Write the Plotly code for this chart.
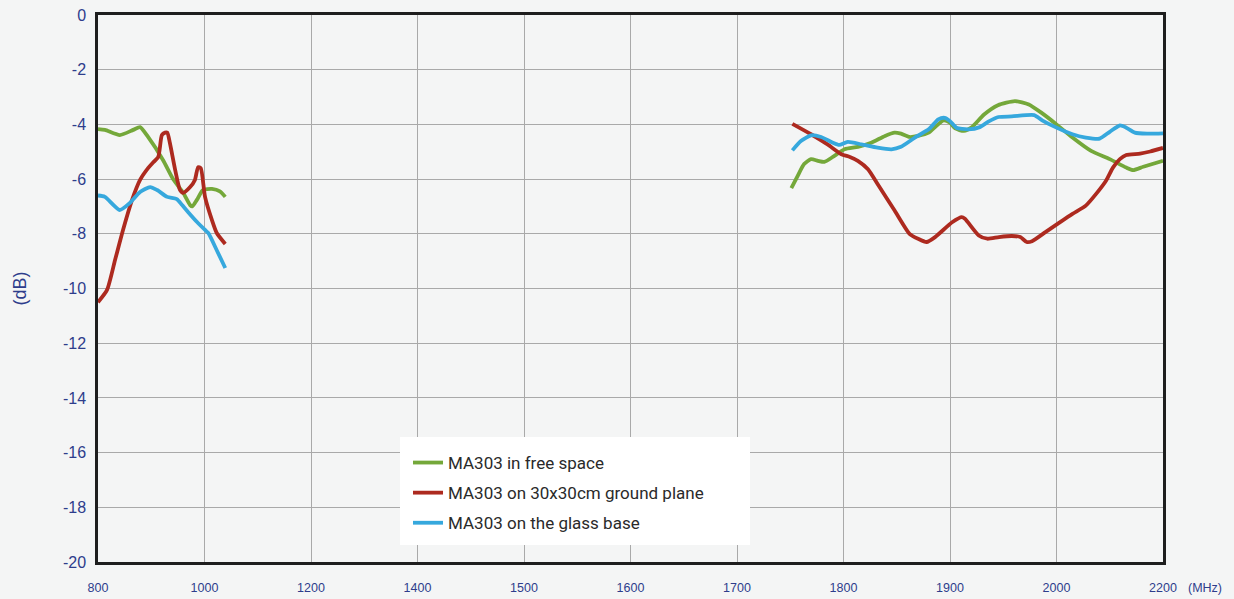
import numpy as np
import plotly.graph_objects as go

# Axis tick values (MHz) — the axis is non-uniform
x_ticks = [800, 1000, 1200, 1400, 1500, 1600, 1700, 1800, 1900, 2000, 2200]
y_ticks = [0, -2, -4, -6, -8, -10, -12, -14, -16, -18, -20]

# MA303 in free space
free_low_f = [800, 813, 841, 866, 879, 894, 922, 941, 960, 973, 977, 986, 997, 1014, 1029, 1039]
free_low_v = [-4.17, -4.2, -4.39, -4.2, -4.1, -4.46, -5.3, -6.0, -6.5, -6.95, -7.0, -6.75, -6.4, -6.36, -6.45, -6.65]
free_high_f = [1751, 1757, 1763, 1769.5, 1776, 1782, 1790, 1801, 1813.5, 1826, 1839, 1848, 1854, 1862, 1870,
               1880, 1887, 1894, 1900, 1905, 1913, 1920, 1932, 1945, 1961, 1974, 1986, 2000, 2030, 2065,
               2100, 2131, 2144, 2163, 2200]
free_high_v = [-6.33, -5.88, -5.45, -5.27, -5.33, -5.37, -5.19, -4.91, -4.82, -4.67, -4.42, -4.3, -4.34, -4.46, -4.42,
               -4.3, -4.06, -3.85, -3.94, -4.15, -4.24, -4.12, -3.64, -3.3, -3.15, -3.27, -3.58, -4.0, -4.48, -4.97,
               -5.27, -5.58, -5.67, -5.55, -5.33]

# MA303 on 30x30cm ground plane
ground_low_f = [800, 817, 832, 847, 864, 879, 894, 903, 913, 920, 926, 930, 935, 945, 954, 960, 973, 982, 988,
                993, 1001, 1014, 1023, 1039]
ground_low_v = [-10.5, -10.05, -8.96, -7.86, -6.76, -6.03, -5.6, -5.4, -5.2, -4.39, -4.3, -4.3, -4.68, -5.67,
                -6.4, -6.5, -6.29, -6.03, -5.56, -5.6, -6.65, -7.5, -7.97, -8.37]
ground_high_f = [1752, 1769.5, 1785, 1798, 1806, 1813.5, 1823, 1832, 1848, 1862, 1870, 1878, 1886, 1902, 1911,
                 1914, 1927, 1935, 1946, 1958, 1966, 1972, 1977, 1989.6, 2004, 2030, 2055, 2074, 2093, 2106,
                 2119, 2131, 2157, 2176, 2200]
ground_high_v = [-3.98, -4.36, -4.73, -5.09, -5.19, -5.33, -5.64, -6.18, -7.15, -8.0, -8.18, -8.3, -8.12, -7.58,
                 -7.39, -7.45, -8.06, -8.18, -8.12, -8.08, -8.12, -8.3, -8.27, -7.94, -7.61, -7.27, -6.97, -6.55,
                 -6.06, -5.58, -5.27, -5.12, -5.07, -4.99, -4.86]

# MA303 on the glass base
glass_low_f = [800, 813, 841, 860, 879, 898, 911, 930, 948, 958, 969, 986, 1001, 1007, 1023, 1039]
glass_low_v = [-6.6, -6.65, -7.13, -6.87, -6.47, -6.29, -6.4, -6.65, -6.73, -6.95, -7.2, -7.57, -7.86, -7.97,
               -8.6, -9.25]
glass_high_f = [1752, 1760, 1769.5, 1779, 1790, 1796, 1804, 1817, 1832, 1845, 1854, 1867, 1880, 1889, 1895, 1900,
                1906, 1917, 1928, 1936, 1945.6, 1958, 1979, 1986.5, 1999, 2030, 2055, 2081, 2100, 2119, 2131,
                2147, 2170, 2200]
glass_high_v = [-4.95, -4.61, -4.4, -4.46, -4.67, -4.75, -4.64, -4.73, -4.85, -4.91, -4.82, -4.48, -4.18, -3.82,
                -3.76, -3.88, -4.12, -4.18, -4.1, -3.9, -3.73, -3.71, -3.66, -3.85, -4.1, -4.36, -4.48, -4.52,
                -4.27, -4.04, -4.12, -4.3, -4.34, -4.33]

series = [
    ("MA303 in free space", "#74a83a", free_low_f, free_low_v, free_high_f, free_high_v),
    ("MA303 on 30x30cm ground plane", "#ad2a1f", ground_low_f, ground_low_v, ground_high_f, ground_high_v),
    ("MA303 on the glass base", "#36a8dd", glass_low_f, glass_low_v, glass_high_f, glass_high_v),
]

tick_pos = list(range(len(x_ticks)))


def to_axis(f):
    return np.interp(f, x_ticks, tick_pos)


fig = go.Figure()
for name, color, lf, lv, hf, hv in series:
    xs = list(to_axis(lf)) + [None] + list(to_axis(hf))
    ys = list(lv) + [None] + list(hv)
    fig.add_trace(go.Scatter(
        x=xs, y=ys, mode="lines", name=name, legendgroup=name,
        line=dict(color=color, width=3.8, shape="spline", smoothing=0.6),
        connectgaps=False,
    ))

bg = "#f4f5f5"
tick_color = "#2e3d8c"

# legend white box
x0p = (400 - 98) / 1065
x1p = (750 - 98) / 1065
y0p = (562 - 545) / 547
y1p = (562 - 437) / 547
fig.add_shape(type="rect", xref="paper", yref="paper", x0=x0p, x1=x1p, y0=y0p, y1=y1p,
              fillcolor="white", line=dict(width=0), layer="above")

fig.update_layout(
    width=1234, height=599,
    margin=dict(l=98, r=71, t=15, b=37, autoexpand=False),
    paper_bgcolor=bg, plot_bgcolor=bg,
    showlegend=True,
    legend=dict(
        x=(408 - 98) / 1065, y=(562 - 445) / 547, xanchor="left", yanchor="top",
        bgcolor="rgba(0,0,0,0)", borderwidth=0,
        font=dict(family="Roboto, DejaVu Sans, sans-serif", size=17, color="#2a2a2a"),
        itemwidth=30, traceorder="grouped", tracegroupgap=5,
    ),
    xaxis=dict(
        range=[0, len(x_ticks) - 1], tickmode="array", tickvals=tick_pos,
        ticktext=[str(t) for t in x_ticks],
        showgrid=True, gridcolor="#a9a9a9", gridwidth=1,
        showline=True, linecolor="#1e1e1e", linewidth=2.5, mirror=True,
        ticks="outside", ticklen=12, tickcolor="rgba(0,0,0,0)",
        tickfont=dict(family="Liberation Sans, Arial, sans-serif", size=12.5, color=tick_color),
        zeroline=False, fixedrange=True, automargin=False,
    ),
    yaxis=dict(
        range=[-20, 0], tickmode="array", tickvals=y_ticks,
        ticktext=[str(t) for t in y_ticks],
        showgrid=True, gridcolor="#a9a9a9", gridwidth=1,
        showline=True, linecolor="#1e1e1e", linewidth=2.5, mirror=True,
        ticks="outside", ticklen=6, tickcolor="rgba(0,0,0,0)",
        tickfont=dict(family="Liberation Sans, Arial, sans-serif", size=16, color=tick_color),
        title=dict(text="(dB)", font=dict(family="Liberation Sans, Arial, sans-serif", size=18, color=tick_color),
                   standoff=32),
        zeroline=False, fixedrange=True, automargin=False,
    ),
    annotations=[dict(text="(MHz)", xref="paper", yref="paper", x=(1205 - 98) / 1065, y=-(588 - 562) / 547,
                      xanchor="center", yanchor="middle", showarrow=False,
                      font=dict(family="Liberation Sans, Arial, sans-serif", size=12.5, color=tick_color))],
)

fig.write_html("out.html", config={"displayModeBar": False},
               post_script="document.body.style.margin='0';document.body.style.overflow='hidden';")
